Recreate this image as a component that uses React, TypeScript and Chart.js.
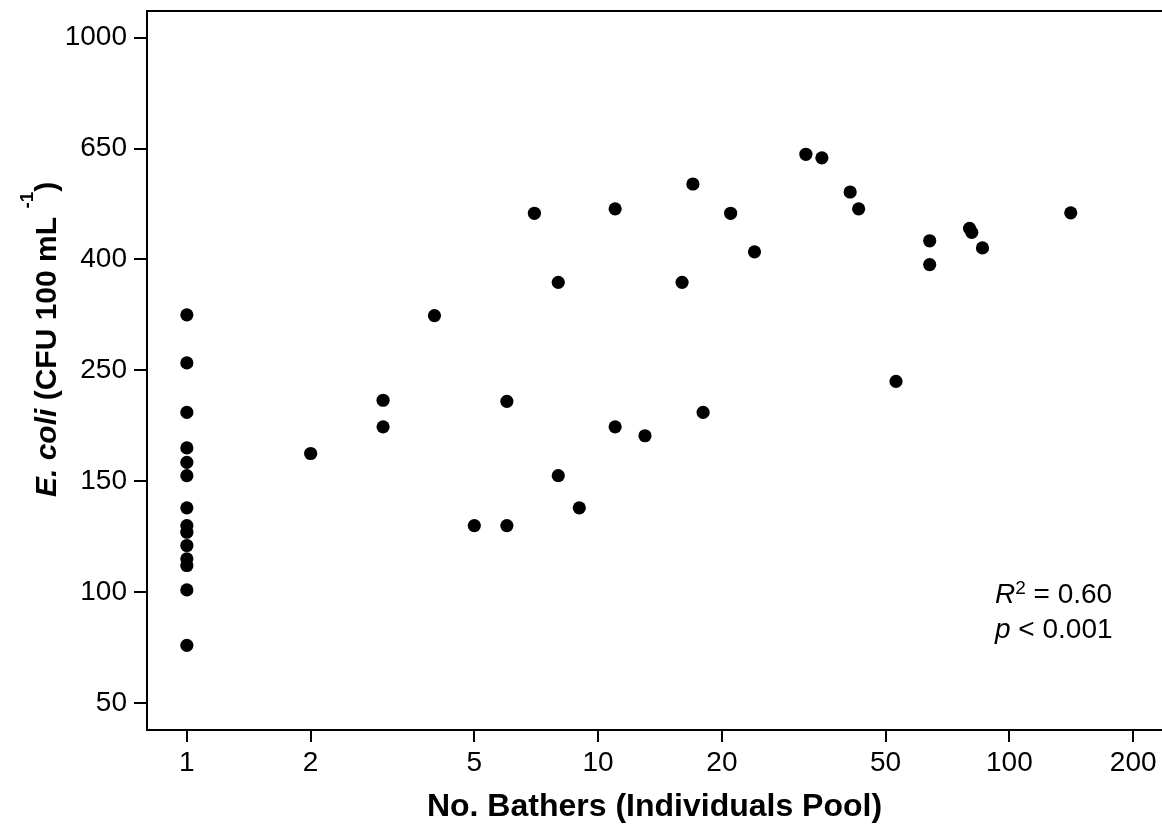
import React, { useEffect, useRef } from "react";
import { Chart, registerables } from "chart.js";

Chart.register(...registerables);

// ---- data ----
const X_TICKS = [1, 2, 5, 10, 20, 50, 100, 200];
const Y_TICK_VALUES = [50, 100, 150, 250, 400, 650, 1000];

const BATHERS = [
  1, 1, 1, 1, 1, 1, 1, 1, 1, 1, 1, 1, 1, 1,
  2, 3, 3, 4, 5, 6, 6, 7, 8, 8, 9, 11, 11, 13, 16, 17, 18, 21, 24, 32, 35, 41, 43, 53, 64, 64, 80, 81, 86, 141,
];
const ECOLI = [
  325, 260, 212, 180, 167, 155, 138, 130, 127, 121, 115, 112, 101, 76,
  175, 223, 199, 324, 130, 130, 222, 504, 369, 155, 138, 514, 199, 191, 369, 570, 212, 504, 417, 637, 629, 552, 514, 240, 442, 393, 470, 461, 426, 505,
];

const X_TITLE = "No. Bathers (Individuals Pool)";
const FONT = "'Liberation Sans', Arial, Helvetica, sans-serif";

// position of a value on the (tick-indexed) vertical axis
const toAxis = (v: number) => {
  const t = Y_TICK_VALUES;
  for (let i = 0; i < t.length - 1; i++) {
    if (v <= t[i + 1] || i === t.length - 2) return i + (v - t[i]) / (t[i + 1] - t[i]);
  }
  return 0;
};

const overlay = {
  id: "overlay",
  afterDraw(chart: any) {
    const { ctx, chartArea } = chart;
    ctx.save();
    // top frame line
    ctx.strokeStyle = "#000";
    ctx.lineWidth = 2;
    ctx.beginPath();
    ctx.moveTo(chartArea.left - 1, chartArea.top);
    ctx.lineTo(chart.width, chartArea.top);
    ctx.stroke();

    ctx.fillStyle = "#000";
    ctx.textBaseline = "alphabetic";
    ctx.textAlign = "left";

    // y-axis title (rotated)
    ctx.save();
    ctx.translate(56, 497);
    ctx.rotate(-Math.PI / 2);
    let x = 0;
    ctx.font = `italic bold 30px ${FONT}`;
    ctx.fillText("E. coli", x, 0);
    x += ctx.measureText("E. coli").width;
    ctx.font = `bold 30px ${FONT}`;
    ctx.fillText(" (CFU 100 mL ", x, 0);
    x += ctx.measureText(" (CFU 100 mL ").width;
    ctx.font = `bold 19px ${FONT}`;
    ctx.fillText("-1", x, -23);
    x += ctx.measureText("-1").width;
    ctx.font = `bold 30px ${FONT}`;
    ctx.fillText(")", x, 0);
    ctx.restore();

    // annotation
    let ax = 995;
    ctx.font = `italic 28px ${FONT}`;
    ctx.fillText("R", ax, 603);
    ax += ctx.measureText("R").width;
    ctx.font = `19px ${FONT}`;
    ctx.fillText("2", ax, 594);
    ax += ctx.measureText("2").width;
    ctx.font = `28px ${FONT}`;
    ctx.fillText(" = 0.60", ax, 603);

    ax = 995;
    ctx.font = `italic 28px ${FONT}`;
    ctx.fillText("p", ax, 638);
    ax += ctx.measureText("p").width;
    ctx.font = `28px ${FONT}`;
    ctx.fillText(" < 0.001", ax, 638);

    ctx.restore();
  },
};

const noPad = (s: any) => {
  s.paddingTop = 0;
  s.paddingBottom = 0;
  s.paddingLeft = 0;
  s.paddingRight = 0;
};

export default function App() {
  const ref = useRef<HTMLCanvasElement | null>(null);

  useEffect(() => {
    if (!ref.current) return;
    Chart.defaults.color = "#000";
    Chart.defaults.font.family = FONT;

    const chart = new Chart(ref.current, {
      type: "scatter",
      data: {
        datasets: [
          {
            data: BATHERS.map((b, i) => ({ x: b, y: toAxis(ECOLI[i]) })),
            backgroundColor: "#000",
            borderWidth: 0,
            pointRadius: 6.6,
            pointHoverRadius: 6.6,
          },
        ],
      },
      options: {
        responsive: false,
        animation: false,
        events: [],
        layout: { autoPadding: false, padding: { top: 11, left: 0, right: 0, bottom: 0 } },
        plugins: { legend: { display: false }, tooltip: { enabled: false } },
        scales: {
          x: {
            type: "logarithmic",
            min: 0.8,
            max: 235,
            afterBuildTicks: (s: any) => {
              s.ticks = X_TICKS.map((v) => ({ value: v }));
            },
            afterFit: (s: any) => {
              s.height = 98;
              noPad(s);
            },
            ticks: {
              autoSkip: false,
              maxRotation: 0,
              padding: 4,
              color: "#000",
              font: { size: 28, family: FONT },
              callback: (v: any) => String(v),
            },
            grid: {
              drawOnChartArea: false,
              drawTicks: true,
              tickLength: 12,
              lineWidth: 2,
              tickWidth: 2,
              tickColor: "#000",
              color: "#000",
            },
            border: { display: true, color: "#000", width: 2 },
            title: {
              display: true,
              text: X_TITLE,
              color: "#000",
              font: { size: 32, weight: "bold", family: FONT },
              padding: { top: 0, bottom: 2 },
            },
          },
          y: {
            type: "linear",
            min: -0.2435,
            max: 6.24,
            afterBuildTicks: (s: any) => {
              s.ticks = Y_TICK_VALUES.map((_, i) => ({ value: i }));
            },
            afterFit: (s: any) => {
              s.width = 147;
              noPad(s);
            },
            ticks: {
              autoSkip: false,
              padding: 7,
              color: "#000",
              font: { size: 28, family: FONT },
              callback: (v: any) => String(Y_TICK_VALUES[Math.round(Number(v))]),
            },
            grid: {
              drawOnChartArea: false,
              drawTicks: true,
              tickLength: 13,
              lineWidth: 2,
              tickWidth: 2,
              tickColor: "#000",
              color: "#000",
            },
            border: { display: true, color: "#000", width: 2 },
          },
        },
      },
      plugins: [overlay],
    });
    return () => chart.destroy();
  }, []);

  return (
    <div style={{ position: "absolute", left: 0, top: 0, width: 1162, height: 828, background: "#fff" }}>
      <canvas ref={ref} width={1162} height={828} style={{ display: "block" }} />
    </div>
  );
}
